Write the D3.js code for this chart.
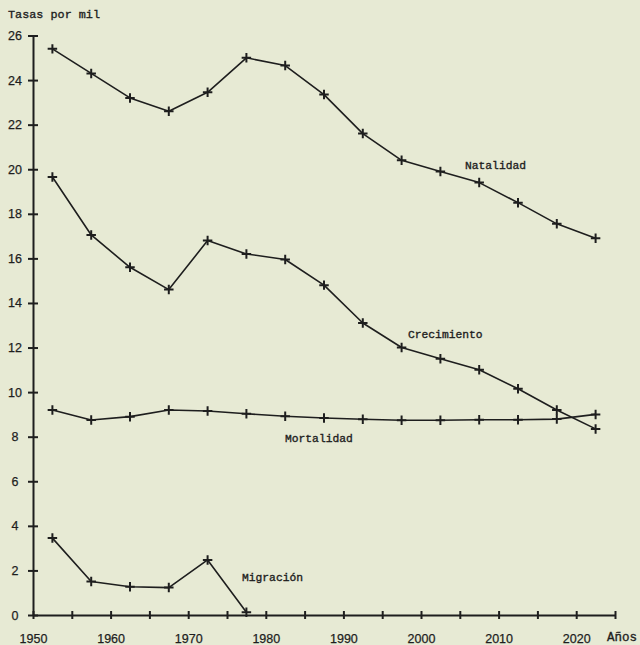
<!DOCTYPE html>
<html>
<head>
<meta charset="utf-8">
<script src="https://cdn.jsdelivr.net/npm/d3@7"></script>
<style>
  html, body { margin: 0; padding: 0; background: #e7ead4; }
  svg { display: block; }
</style>
</head>
<body>
<svg id="chart" width="640" height="645"></svg>
<script>
// ---- data ----
const years = [1952.5, 1957.5, 1962.5, 1967.5, 1972.5, 1977.5, 1982.5, 1987.5, 1992.5, 1997.5, 2002.5, 2007.5, 2012.5, 2017.5, 2022.5];
const natalidad   = [25.4, 24.3, 23.2, 22.6, 23.45, 25.0, 24.65, 23.35, 21.6, 20.4, 19.9, 19.4, 18.5, 17.55, 16.9];
const crecimiento = [19.65, 17.05, 15.6, 14.6, 16.8, 16.2, 15.95, 14.8, 13.1, 12.0, 11.5, 11.0, 10.15, 9.2, 8.35];
const mortalidad  = [9.2, 8.75, 8.9, 9.2, 9.15, 9.03, 8.92, 8.84, 8.78, 8.74, 8.74, 8.76, 8.76, 8.79, 9.0];
const migracionYears = [1952.5, 1957.5, 1962.5, 1967.5, 1972.5, 1977.5];
const migracion   = [3.45, 1.5, 1.27, 1.23, 2.47, 0.12];
const xTicks = [1950, 1955, 1960, 1965, 1970, 1975, 1980, 1985, 1990, 1995, 2000, 2005, 2010, 2015, 2020, 2025];
const xTickLabels = ["1950", "", "1960", "", "1970", "", "1980", "", "1990", "", "2000", "", "2010", "", "2020", ""];
const yTicks = [0, 2, 4, 6, 8, 10, 12, 14, 16, 18, 20, 22, 24, 26];
const seriesLabels = ["Natalidad", "Crecimiento", "Mortalidad", "Migración"];
const yTitle = "Tasas por mil";
const xTitle = "Años";

// ---- layout ----
const svg = d3.select("#chart");
const ink = "#1e1e1e";
const x = d3.scaleLinear().domain([1950, 2025]).range([33, 615]);
const y = d3.scaleLinear().domain([0, 26]).range([615, 35.5]);

svg.append("rect").attr("width", 640).attr("height", 645).attr("fill", "#e7ead4");

const sans = "'Liberation Sans', Arial, sans-serif";

// x axis
const xAxis = d3.axisBottom(x)
  .tickValues(xTicks)
  .tickFormat((d, i) => xTickLabels[i])
  .tickSizeInner(4).tickSizeOuter(0).tickPadding(15);
const gx = svg.append("g").attr("transform", `translate(0,${y(0)})`).call(xAxis);
gx.select(".domain").attr("stroke", ink).attr("stroke-width", 2);
gx.selectAll(".tick line").attr("y1", -4).attr("y2", 4).attr("stroke", ink).attr("stroke-width", 2);
gx.selectAll(".tick text").attr("fill", "#1e1e1e").attr("stroke", "#1e1e1e").attr("stroke-width", 0.25)
  .style("font-family", sans).style("font-size", "12.5px");

// y axis
const yAxis = d3.axisLeft(y)
  .tickValues(yTicks)
  .tickFormat(d3.format("d"))
  .tickSizeInner(5).tickSizeOuter(0).tickPadding(11);
const gy = svg.append("g").attr("transform", `translate(${x(1950)},0)`).call(yAxis);
gy.select(".domain").attr("stroke", ink).attr("stroke-width", 2);
gy.selectAll(".tick line").attr("x1", -5).attr("x2", 5).attr("stroke", ink).attr("stroke-width", 2);
gy.selectAll(".tick text").attr("fill", "#1e1e1e").attr("stroke", "#1e1e1e").attr("stroke-width", 0.25)
  .attr("text-anchor", "middle").attr("x", -18)
  .style("font-family", sans).style("font-size", "12.5px");

// series
const crossSymbol = {
  draw(context, size) {
    const r = Math.sqrt(size) / 2;
    context.moveTo(-r, 0); context.lineTo(r, 0);
    context.moveTo(0, -r); context.lineTo(0, r);
  }
};
const line = d3.line().x(d => x(d[0])).y(d => y(d[1]));

function drawSeries(xs, vals) {
  const pts = xs.map((yr, i) => [yr, vals[i]]);
  svg.append("path").datum(pts)
    .attr("d", line).attr("fill", "none").attr("stroke", ink).attr("stroke-width", 1.6)
    .attr("stroke-linejoin", "round");
  svg.append("g").selectAll("path").data(pts).join("path")
    .attr("transform", d => `translate(${x(d[0])},${y(d[1])})`)
    .attr("d", d3.symbol().type(crossSymbol).size(90))
    .attr("fill", "none").attr("stroke", ink).attr("stroke-width", 2);
}
drawSeries(years, natalidad);
drawSeries(years, crecimiento);
drawSeries(years, mortalidad);
drawSeries(migracionYears, migracion);

// labels
const mono = "'Liberation Mono', 'Courier New', monospace";
function label(txt, px, py, size) {
  svg.append("text").attr("x", px).attr("y", py).text(txt)
    .attr("fill", "#1e1e1e").attr("stroke", "#1e1e1e").attr("stroke-width", 0.35)
    .style("font-family", mono).style("font-size", size + "px");
}
label(yTitle, 8, 18, 11.8);
label(seriesLabels[0], 465, 169, 11.3);
label(seriesLabels[1], 408, 338, 11.3);
label(seriesLabels[2], 285, 442, 11.3);
label(seriesLabels[3], 242, 581, 11.3);
label(xTitle, 607, 641, 12.5);
</script>
</body>
</html>
